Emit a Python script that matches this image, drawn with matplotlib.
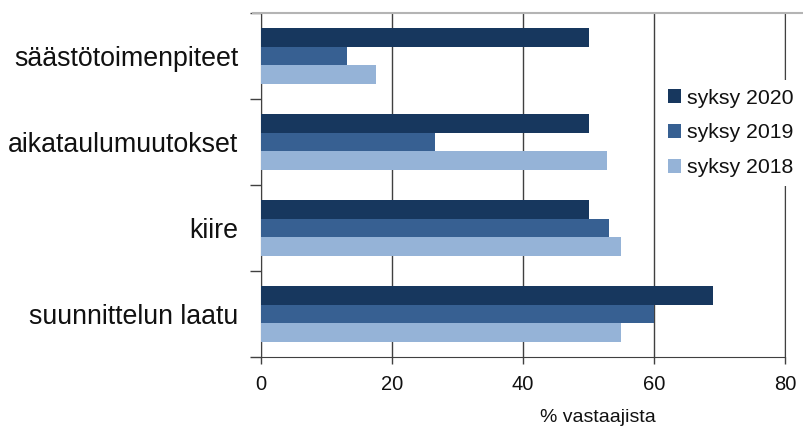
import numpy as np
import matplotlib.pyplot as plt
from matplotlib.lines import Line2D

plt.rcParams['font.family'] = ['Liberation Sans', 'DejaVu Sans']

categories = ["säästötoimenpiteet", "aikataulumuutokset", "kiire", "suunnittelun laatu"]
series_names = ["syksy 2020", "syksy 2019", "syksy 2018"]
v2020 = [50, 50, 50, 69]
v2019 = [13.2, 26.5, 53.2, 60]
v2018 = [17.6, 52.9, 54.9, 54.9]
colors = ["#17375e", "#376092", "#95b3d7"]
xticks = [0, 20, 40, 60, 80]

fig = plt.figure(figsize=(8.04, 4.32), dpi=100)
ax = fig.add_axes([261 / 804, 1 - 357 / 432, 524 / 804, 344 / 432])

pos = np.arange(len(categories))
h = 0.22
for k, (vals, name, c) in enumerate(zip([v2020, v2019, v2018], series_names, colors)):
    ax.barh(pos + (k - 1) * h, vals, height=h, color=c, label=name, zorder=3)

ax.set_xlim(0, 80)
ax.set_ylim(len(categories) - 0.5, -0.5)
ax.set_xticks(xticks)
ax.set_xticklabels([str(t) for t in xticks], fontsize=14.5, color="#111111")
ax.set_yticks(pos)
ax.set_yticklabels(categories, fontsize=19.3, color="#111111")
ax.set_yticks(np.arange(len(categories) + 1) - 0.5, minor=True)
ax.tick_params(axis="y", which="major", length=0, pad=16.5)
ax.tick_params(axis="y", which="minor", length=8, width=1, color="#404040")
ax.tick_params(axis="x", length=5, width=1, color="#404040", pad=8)

ax.grid(axis="x", color="#404040", lw=1, zorder=1)
for s in ["left", "bottom", "right"]:
    ax.spines[s].set_color("#404040")
ax.spines["top"].set_visible(False)

# light border along the top of the plot
fig.add_artist(Line2D([253 / 804, 1.0], [1 - 13 / 432] * 2, color="#b4b4b4", lw=1.5))

ax.text(598 / 804, 1 - 418 / 432, "% vastaajista", transform=fig.transFigure,
        ha="center", va="center", fontsize=14, color="#111111")

leg = fig.legend(loc="center left", bbox_to_anchor=(660 / 804, 1 - 133 / 432),
                 fontsize=15.3, frameon=True, fancybox=False, edgecolor="none",
                 facecolor="white", framealpha=1, handlelength=0.6, handleheight=0.6,
                 handletextpad=0.25, labelspacing=0.75, borderpad=0.4, borderaxespad=0)
for t in leg.get_texts():
    t.set_color("#111111")

fig.savefig("out.png", dpi=100)
